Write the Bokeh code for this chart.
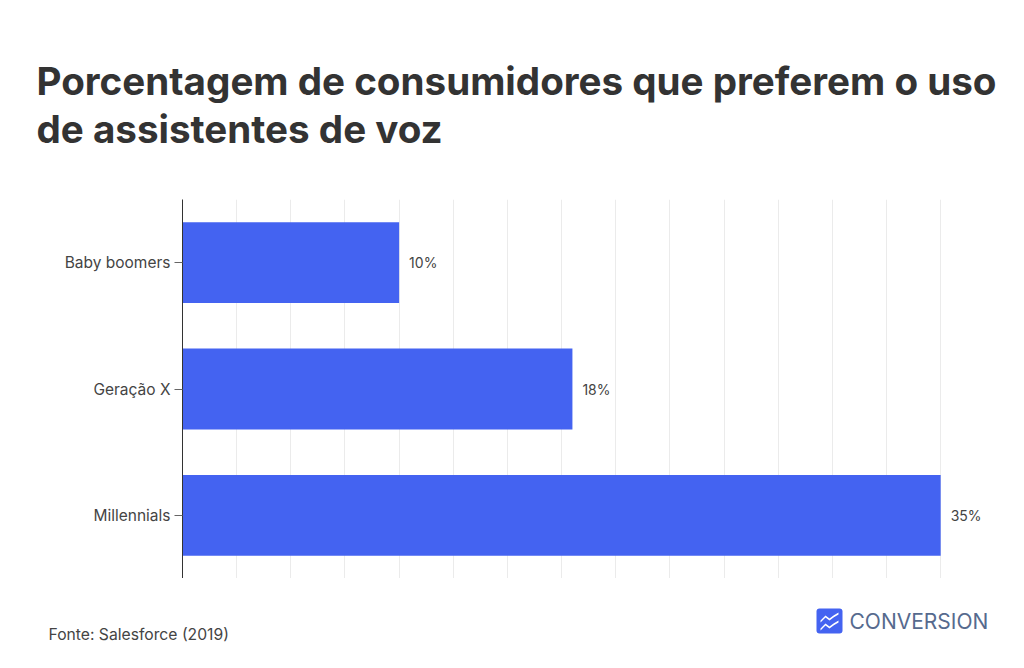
from bokeh.plotting import figure
from bokeh.layouts import column
from bokeh.models import (ColumnDataSource, FactorRange, Range1d, FixedTicker, Grid,
                          Label, BoxAnnotation, PolyAnnotation)
from bokeh.core.properties import value
from bokeh.embed import file_html
from bokeh.resources import INLINE

title_lines = ["Porcentagem de consumidores que preferem o uso", "de assistentes de voz"]
source_text = "Fonte: Salesforce (2019)"
brand_text = "CONVERSION"
categories = ["Millennials", "Geração X", "Baby boomers"]
values = [35, 18, 10]
value_labels = ["35%", "18%", "10%"]
grid_ticks = [2.5, 5, 7.5, 10, 12.5, 15, 17.5, 20, 22.5, 25, 27.5, 30, 32.5, 35]

W = 1016
TOP, FB, BOTTOM = 199, 578, 660
FL = 182
FONT = "Inter"
TEXT = "#444444"

def strip(height):
    f = figure(width=W, height=height, output_backend="svg", toolbar_location=None,
               x_range=Range1d(0, W), y_range=Range1d(0, height), frame_align=False,
               min_border=0, min_border_left=0, min_border_right=0,
               min_border_top=0, min_border_bottom=0)
    f.axis.visible = False
    f.grid.visible = False
    f.outline_line_color = None
    return f

def lab(f, text, x, y_from_bottom, size, color, style="normal"):
    f.add_layout(Label(x=x, y=y_from_bottom, x_units="screen", y_units="screen", text=text,
                       text_font=FONT, text_font_size=size, text_color=color,
                       text_font_style=style, text_baseline="alphabetic", text_align="left"))

# header
head = strip(TOP)
lab(head, title_lines[0], 36, TOP - 80, "38.6px", "#333333", "bold")
lab(head, title_lines[1], 36, TOP - 128, "38.6px", "#333333", "bold")

# chart
p = figure(width=W, height=FB - TOP, output_backend="svg", toolbar_location=None,
           x_range=Range1d(0, 38.5), y_range=FactorRange(factors=categories, range_padding=0),
           frame_align=False,
           min_border_left=FL, min_border_right=0, min_border_top=0, min_border_bottom=0)
p.outline_line_color = None
p.background_fill_color = "white"
p.border_fill_color = "white"
p.xaxis.visible = False
p.xgrid.visible = False
p.ygrid.visible = False
p.add_layout(Grid(dimension=0, ticker=FixedTicker(ticks=grid_ticks),
                  grid_line_color="#ebebeb", grid_line_width=1))

ax = p.yaxis[0]
ax.axis_line_color = "#333333"
ax.axis_line_width = 1
ax.major_tick_line_color = "#666666"
ax.major_tick_out = 8
ax.major_tick_in = 0
ax.minor_tick_line_color = None
ax.major_label_text_font = FONT
ax.major_label_text_font_size = "15.5px"
ax.major_label_text_color = TEXT
ax.major_label_standoff = 4

src = ColumnDataSource(dict(cat=categories, val=values, lab=value_labels))
p.hbar(y="cat", right="val", left=0, height=0.64, source=src,
       fill_color="#4463F1", line_color=None)
p.text(x="val", y="cat", text="lab", source=src, x_offset=10,
       text_font=value(FONT), text_font_size="14px", text_color=TEXT,
       text_baseline="middle", text_align="left")

# footer
foot = strip(BOTTOM - FB)
lab(foot, source_text, 48, BOTTOM - 634, "15.7px", TEXT)
lab(foot, brand_text, 849, BOTTOM - 621, "21px", "#566a8e")
foot.add_layout(BoxAnnotation(left=816, right=842, top=BOTTOM - 608, bottom=BOTTOM - 633,
                              left_units="screen", right_units="screen",
                              top_units="screen", bottom_units="screen",
                              fill_color="#4463F1", fill_alpha=1, line_color=None,
                              border_radius=3))
for dy in (0, 8):
    xs = [820, 825, 829, 833, 838, 838, 833, 829, 825, 820]
    ys = [620, 615, 618, 615, 612, 614, 617, 620, 617, 622]
    foot.add_layout(PolyAnnotation(xs=xs, ys=[BOTTOM - (y + dy) for y in ys],
                                   xs_units="screen", ys_units="screen",
                                   fill_color="white", fill_alpha=1, line_color=None))

open("out.html", "w").write(file_html(column(head, p, foot, spacing=0), INLINE))
